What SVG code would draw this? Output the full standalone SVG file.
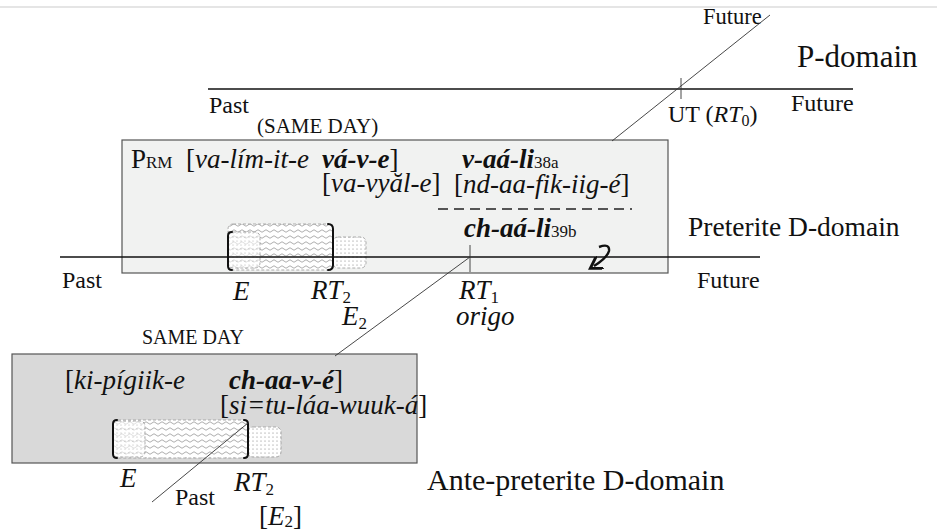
<svg xmlns="http://www.w3.org/2000/svg" width="937" height="531" viewBox="0 0 937 531">
<style>
text{font-family:"Liberation Serif","Times New Roman",serif;fill:#111}
.t17{font-size:24px}
.t15{font-size:20px}
.t19{font-size:27px}
.it{font-style:italic}
.bi{font-style:italic;font-weight:bold}
.sub{font-size:17px;font-style:normal;font-weight:normal}
.ln{stroke:#111;stroke-width:1.4;fill:none}
.thin{stroke:#333;stroke-width:0.9;fill:none}
.box{stroke:#555;stroke-width:1.2}
.dash{stroke:#222;stroke-width:1.3;stroke-dasharray:10 6;fill:none}
.br{stroke:#111;stroke-width:2;fill:none;stroke-linecap:round}
.wv{fill:url(#waves);stroke:#999;stroke-width:0.8;stroke-dasharray:3 2}
.dt{fill:url(#dots);stroke:#999;stroke-width:0.8;stroke-dasharray:3 2}
</style>
<defs>
<pattern id="waves" width="8" height="6" patternUnits="userSpaceOnUse">
<rect width="8" height="6" fill="#fff"/>
<path d="M0 3 Q2 0.5 4 3 T8 3" stroke="#888" stroke-width="0.7" fill="none"/>
</pattern>
<pattern id="dots" width="4" height="4" patternUnits="userSpaceOnUse">
<rect width="4" height="4" fill="#fff"/>
<circle cx="1" cy="1" r="0.55" fill="#777"/>
</pattern>
<marker id="ah" viewBox="0 0 10 10" refX="5" refY="5" markerWidth="6" markerHeight="6" orient="auto">
<path d="M0 0 L8 5 L0 10" fill="none" stroke="#111" stroke-width="2"/>
</marker>
</defs>
<rect width="937" height="531" fill="#fff"/>
<line x1="0" y1="7" x2="937" y2="7" stroke="#ddd" stroke-width="1.5"/>

<g id="p-domain">
<line class="ln" x1="208" y1="89" x2="853" y2="89"/>
<line class="thin" x1="681" y1="78" x2="681" y2="99"/>
<text x="797" y="67" font-size="31">P-domain</text>
<text class="t17" x="209" y="113">Past</text>
<text class="t17" x="791" y="111">Future</text>
<text class="t17" x="668" y="122">UT (<tspan class="it">RT</tspan><tspan font-size="16" dy="4">0</tspan><tspan dy="-4">)</tspan></text>
<text x="703" y="24" font-size="22.5">Future</text>
<text x="257" y="133" font-size="21">(SAME DAY)</text>
</g>

<g id="preterite-box">
<rect class="box" x="122" y="140" width="546" height="133" fill="#f1f2f1"/>
<text class="t19" x="131" y="168">P<tspan font-size="17">RM</tspan></text>
<text class="t19" x="186" y="168">[<tspan class="it">va-lím-it-e</tspan></text>
<text class="t19" x="322" y="168"><tspan class="bi">vá-v-e</tspan>]</text>
<text class="t19" x="322" y="192">[<tspan class="it">va-vyăl-e</tspan>]</text>
<text class="t19" x="462" y="168"><tspan class="bi">v-aá-li</tspan><tspan class="sub">38a</tspan></text>
<text class="t19" x="454" y="193">[<tspan class="it">nd-aa-fik-iig-é</tspan>]</text>
<line class="dash" x1="438" y1="209" x2="632" y2="209"/>
<text class="t19" x="464" y="237"><tspan class="bi">ch-aá-li</tspan><tspan class="sub">39b</tspan></text>
<path d="M599 247 Q610 243 609 251 Q607 258 594 266" stroke="#111" stroke-width="2.4" fill="none" marker-end="url(#ah)"/>
</g>

<g id="preterite-figure">
<rect class="wv" x="228" y="224" width="105" height="46" rx="5"/>
<rect class="dt" x="228" y="232" width="32" height="36" rx="5" fill-opacity="0.6"/>
<rect class="dt" x="333" y="237" width="33" height="31" rx="5"/>
<path class="br" d="M232 232 Q228 232 228 236 L228 266 Q228 270 232 270"/>
<path class="br" d="M328 224 Q333 224 333 229 L333 265 Q333 270 328 270"/>
</g>

<g id="preterite-line">
<line class="ln" x1="60" y1="257" x2="760" y2="257"/>
<line class="thin" x1="470" y1="245" x2="470" y2="272"/>
<text x="688" y="236" font-size="27.5">Preterite D-domain</text>
<text class="t17" x="62" y="288">Past</text>
<text class="t17" x="697" y="288">Future</text>
<text class="t19 it" x="233" y="300">E</text>
<text class="t19 it" x="311" y="299">RT<tspan class="sub" dy="4">2</tspan></text>
<text class="t19 it" x="342" y="325">E<tspan class="sub" dy="4">2</tspan></text>
<text class="t19 it" x="459" y="299">RT<tspan class="sub" dy="4">1</tspan></text>
<text class="t19 it" x="456" y="325">origo</text>
</g>

<g id="ante-preterite-box">
<text class="t15" x="142" y="344">SAME DAY</text>
<rect class="box" x="12" y="354" width="405" height="109" fill="#d9d9d9"/>
<text class="t19" x="65" y="389">[<tspan class="it">ki-pígiik-e</tspan></text>
<text class="t19" x="229" y="389"><tspan class="bi">ch-aa-v-é</tspan>]</text>
<text class="t19" x="220" y="414">[<tspan class="it">si=tu-láa-wuuk-á</tspan>]</text>
<rect class="wv" x="113" y="420" width="135" height="38" rx="5"/>
<rect class="dt" x="113" y="421" width="32" height="36" rx="5" fill-opacity="0.6"/>
<rect class="dt" x="248" y="427" width="33" height="30" rx="5"/>
<path class="br" d="M117 420 Q113 420 113 424 L113 454 Q113 458 117 458"/>
<path class="br" d="M244 420 Q248 420 248 424 L248 454 Q248 458 244 458"/>
<text x="427" y="490" font-size="30">Ante-preterite D-domain</text>
<text class="t19 it" x="120" y="487">E</text>
<text class="t17" x="175" y="505">Past</text>
<text class="t19 it" x="234" y="491">RT<tspan class="sub" dy="4">2</tspan></text>
<text class="t19" x="259" y="525">[<tspan class="it">E</tspan><tspan class="sub" dy="2">2</tspan><tspan dy="-2">]</tspan></text>
</g>

<g id="connectors">
<line class="thin" x1="612" y1="141" x2="770" y2="15"/>
<line class="thin" x1="470" y1="257" x2="335" y2="356"/>
<line class="thin" x1="152" y1="502" x2="248" y2="423"/>
</g>
</svg>
